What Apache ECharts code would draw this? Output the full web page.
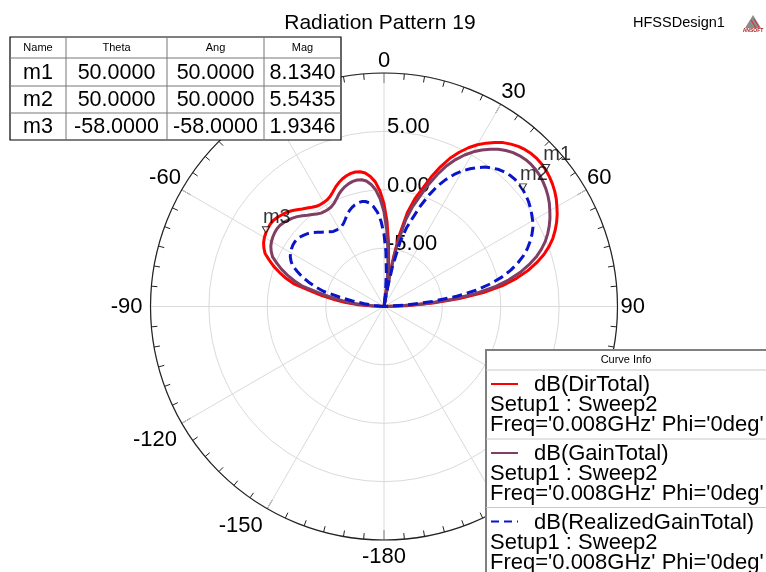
<!DOCTYPE html>
<html>
<head>
<meta charset="utf-8">
<script src="https://cdn.jsdelivr.net/npm/echarts@6/dist/echarts.min.js"></script>
<style>html,body{margin:0;padding:0;background:#fff}#c{width:766px;height:572px}</style>
</head>
<body>
<div id="c"></div>
<script>
// ---- data (theta in degrees, values in dB) ----
const angles = [-90,-88,-86,-84,-82,-80,-78,-76,-74,-72,-70,-68,-66,-64,-62,-60,-58,-56,-54,-52,-50,-48,-46,-44,-42,-40,-38,-36,-34,-32,-30,-28,-26,-24,-22,-20,-18,-16,-14,-12,-10,-8,-6,-4,-2,0,2,4,6,7,8,9,10,11,12,14,16,18,20,22,24,26,28,30,32,34,36,38,40,42,44,46,48,50,52,54,56,58,60,62,64,66,68,70,72,74,76,78,80,82,84,86,88,90];
const dirTotal = [-10,-9.0,-7.8,-6.6,-5.7,-4.6,-3.5,-2.1,-1.3,-0.6,0.05,0.6,1.15,1.45,1.68,1.83,1.93,2.0,2.03,2.0,1.9,1.75,1.6,1.4,1.15,0.9,0.7,0.5,0.35,0.3,0.3,0.35,0.5,0.75,1.05,1.3,1.5,1.65,1.75,1.78,1.72,1.55,1.2,0.7,-0.1,
  -1.2,-2.7,-4.5,-6.2,
  -7.2,-8.4,-10,-7.6,-5.6,
  -3.9,-1.7,-0.4,0.6,1.8,2.9,3.9,4.7,5.4,6.0,6.5,6.95,7.35,7.65,7.9,8.07,8.18,8.22,8.2,8.13,8.0,7.84,7.64,7.4,7.1,6.8,6.45,6.05,5.6,5.05,4.4,3.6,2.7,1.6,0.3,-1.4,-3.5,-5.8,-8.1,-10];
const gainTotal = [-10,-9.7,-8.5,-7.3,-6.4,-5.3,-4.2,-2.8,-2.0,-1.3,-0.65,-0.1,0.45,0.75,0.98,1.13,1.23,1.3,1.33,1.3,1.2,1.05,0.9,0.7,0.45,0.2,0.0,-0.2,-0.35,-0.4,-0.4,-0.35,-0.2,0.05,0.35,0.6,0.8,0.95,1.05,1.08,1.02,0.85,0.5,0.0,-0.8,
  -1.9,-3.4,-5.2,-6.9,
  -7.9,-9.1,-10,-8.3,-6.3,
  -4.6,-2.4,-1.1,-0.1,1.1,2.2,3.2,4.0,4.7,5.3,5.8,6.25,6.65,6.95,7.2,7.37,7.48,7.52,7.5,7.43,7.3,7.14,6.94,6.7,6.4,6.1,5.75,5.35,4.9,4.35,3.7,2.9,2.0,0.9,-0.4,-2.1,-4.2,-6.5,-8.8,-10];
const realizedGainTotal = [-10,-10,-10,-9.19,-8.29,-7.19,-6.09,-4.69,-3.89,-3.19,-2.54,-1.99,-1.44,-1.14,-0.91,-0.76,-0.66,-0.59,-0.56,-0.59,-0.69,-0.84,-0.99,-1.19,-1.44,-1.69,-1.89,-2.09,-2.24,-2.29,-2.29,-2.24,-2.09,-1.84,-1.54,-1.29,-1.09,-0.94,-0.84,-0.81,-0.87,-1.04,-1.39,-1.89,-2.69,
  -3.79,-5.29,-7.09,-8.79,
  -9.79,-10,-10,-10,-8.19,
  -6.49,-4.29,-2.99,-1.99,-0.79,0.31,1.31,2.11,2.81,3.41,3.91,4.36,4.76,5.06,5.31,5.48,5.59,5.63,5.61,5.54,5.43,5.3,5.12,4.92,4.7,4.45,4.1,3.7,3.25,2.7,2.05,1.3,0.4,-0.7,-2.0,-3.7,-5.8,-8.0,-10,-10];

const markerNames = ['m1', 'm2', 'm3'];
const markerTheta = [50, 50, -58];
const markerMag = [8.1340, 5.5435, 1.9346];

const seriesNames = ['dB(DirTotal)', 'dB(GainTotal)', 'dB(RealizedGainTotal)'];
const setupLabel = 'Setup1 : Sweep2';
const freqLabel = "Freq='0.008GHz' Phi='0deg'";
const tableHeader = ['Name', 'Theta', 'Ang', 'Mag'];
const titleText = 'Radiation Pattern 19';
const designText = 'HFSSDesign1';

// axis ticks: radius in dB, angle in degrees
const radiusMin = -10, radiusMax = 10, radiusStep = 5;
const angleStep = 30;

// ---- chart ----
const FONT = '"Liberation Sans", Arial, sans-serif';
const colors = ['#ff0000', '#7f3f63', '#0a14c8'];
const toAxis = a => (a < 0 ? a + 360 : a);
const mk = vals => angles.map((a, i) => [vals[i], toAxis(a)]);

const chart = echarts.init(document.getElementById('c'), null, { renderer: 'canvas' });

const g = [];
g.push({ type: 'text', x: 380, y: 23, z: 100, style: { text: titleText, font: '21px ' + FONT, fill: '#000', textAlign: 'center', textVerticalAlign: 'middle' } });
g.push({ type: 'text', x: 633, y: 23, z: 100, style: { text: designText, font: '14.5px ' + FONT, fill: '#000', textAlign: 'left', textVerticalAlign: 'middle' } });
// small logo
g.push({ type: 'polygon', z: 100, shape: { points: [[753, 15], [745, 28], [761, 28]] }, style: { fill: '#8c8c8c' } });
g.push({ type: 'line', z: 101, shape: { x1: 751, y1: 20, x2: 756, y2: 28 }, style: { stroke: '#d43030', lineWidth: 1 } });
g.push({ type: 'line', z: 101, shape: { x1: 754, y1: 19, x2: 759, y2: 27 }, style: { stroke: '#d43030', lineWidth: 1 } });
g.push({ type: 'text', x: 753, y: 31, z: 101, style: { text: 'ANSOFT', font: 'bold 5px ' + FONT, fill: '#a02020', textAlign: 'center', textVerticalAlign: 'middle' } });

// marker table
const tx = [10, 66, 167, 264, 341];
const ty = [37, 58, 86, 113, 140];
g.push({ type: 'rect', z: 100, shape: { x: tx[0], y: ty[0], width: tx[4] - tx[0], height: ty[4] - ty[0] }, style: { fill: '#fff', stroke: '#000', lineWidth: 1.2 } });
for (let i = 1; i < 4; i++) {
  g.push({ type: 'line', z: 101, shape: { x1: tx[i], y1: ty[0], x2: tx[i], y2: ty[4] }, style: { stroke: '#777', lineWidth: 1 } });
  g.push({ type: 'line', z: 101, shape: { x1: tx[0], y1: ty[i], x2: tx[4], y2: ty[i] }, style: { stroke: '#777', lineWidth: 1 } });
}
tableHeader.forEach((h, c) => {
  g.push({ type: 'text', z: 102, x: (tx[c] + tx[c + 1]) / 2, y: (ty[0] + ty[1]) / 2, style: { text: h, font: '11px ' + FONT, fill: '#000', textAlign: 'center', textVerticalAlign: 'middle' } });
});
markerNames.forEach((n, r) => {
  const cells = [n, markerTheta[r].toFixed(4), markerTheta[r].toFixed(4), markerMag[r].toFixed(4)];
  cells.forEach((t, c) => {
    g.push({ type: 'text', z: 102, x: (tx[c] + tx[c + 1]) / 2, y: (ty[r + 1] + ty[r + 2]) / 2 + 1, style: { text: t, font: '21.5px ' + FONT, fill: '#000', textAlign: 'center', textVerticalAlign: 'middle' } });
  });
});

// curve info box
const bx = 486, by = 350;
g.push({ type: 'rect', z: 100, shape: { x: bx, y: by, width: 300, height: 240 }, style: { fill: '#fff', stroke: '#808080', lineWidth: 2 } });
g.push({ type: 'text', z: 102, x: 626, y: 360, style: { text: 'Curve Info', font: '11px ' + FONT, fill: '#000', textAlign: 'center', textVerticalAlign: 'middle' } });
g.push({ type: 'line', z: 101, shape: { x1: bx, y1: 370, x2: 766, y2: 370 }, style: { stroke: '#c8c8c8', lineWidth: 1 } });
const entryTop = [370, 439, 507.5];
seriesNames.forEach((n, i) => {
  const t = entryTop[i];
  if (i > 0) g.push({ type: 'line', z: 101, shape: { x1: bx, y1: t, x2: 766, y2: t }, style: { stroke: '#c8c8c8', lineWidth: 1 } });
  g.push({ type: 'line', z: 102, shape: { x1: 491, y1: t + 14, x2: 518, y2: t + 14 }, style: { stroke: colors[i], lineWidth: 2, lineDash: i === 2 ? [8, 5] : null } });
  g.push({ type: 'text', z: 102, x: 534, y: t + 15, style: { text: n, font: '22px ' + FONT, fill: '#000', textAlign: 'left', textVerticalAlign: 'middle' } });
  g.push({ type: 'text', z: 102, x: 490, y: t + 35, style: { text: setupLabel, font: '22px ' + FONT, fill: '#000', textAlign: 'left', textVerticalAlign: 'middle' } });
  g.push({ type: 'text', z: 102, x: 490, y: t + 55, style: { text: freqLabel, font: '22px ' + FONT, fill: '#000', textAlign: 'left', textVerticalAlign: 'middle' } });
});

const curves = [dirTotal, gainTotal, realizedGainTotal];
const series = curves.map((vals, i) => ({
  name: seriesNames[i], type: 'line', coordinateSystem: 'polar', data: mk(vals),
  showSymbol: false, symbol: 'none', smooth: false, silent: true, z: 3 + i,
  lineStyle: { color: colors[i], width: 3, type: i === 2 ? [10, 5] : 'solid' }
}));
series.push({
  name: 'markers', type: 'scatter', coordinateSystem: 'polar', z: 10, silent: true,
  data: markerMag.map((m, i) => [m, toAxis(markerTheta[i])]),
  symbol: 'triangle', symbolRotate: 180, symbolSize: [7, 6], symbolOffset: [0, -3],
  itemStyle: { color: '#fff', borderColor: '#000', borderWidth: 1 },
  label: { show: true, position: 'top', distance: 1, offset: [11, 2], formatter: p => markerNames[p.dataIndex], fontFamily: FONT, fontSize: 20, color: '#000' }
});

const labelBase = { fontSize: 22, fontFamily: FONT, color: '#000' };
const angleLabelFormatter = v => {
  if (v === 360) return '';
  const d = v >= 180 ? v - 360 : v;
  const a = Math.abs(d);
  const key = a < 90 ? 'up' : (a === 90 ? 'side' : 'down');
  return '{' + key + '|' + d + '}';
};

chart.setOption({
  animation: false,
  backgroundColor: '#fff',
  polar: { center: [384, 306.5], radius: 233.5 },
  angleAxis: {
    type: 'value', min: 0, max: 360, interval: angleStep, startAngle: 90, clockwise: true,
    axisLine: { show: true, lineStyle: { color: '#222', width: 1.2 } },
    axisTick: { show: true, inside: true, length: 10, lineStyle: { color: '#222', width: 1 } },
    minorTick: { show: true, splitNumber: 6, length: 6, lineStyle: { color: '#222', width: 1 } },
    axisLabel: {
      margin: 1, fontSize: 22, fontFamily: FONT, color: '#000', formatter: angleLabelFormatter,
      rich: {
        up: Object.assign({ padding: [0, 0, 0, 0] }, labelBase),
        side: Object.assign({ padding: [0, 7, 0, 2] }, labelBase),
        down: Object.assign({ padding: [5, 4, 0, 4] }, labelBase)
      }
    },
    splitLine: { show: true, lineStyle: { color: '#dadada', width: 1 } }
  },
  radiusAxis: {
    type: 'value', min: radiusMin, max: radiusMax, interval: radiusStep,
    axisLine: { show: false }, axisTick: { show: false },
    axisLabel: {
      show: true, fontSize: 22, fontFamily: FONT, color: '#000', margin: -3, align: 'left', verticalAlign: 'middle',
      formatter: v => (v === radiusMin || v === radiusMax ? '' : '{r|' + v.toFixed(2) + '}'),
      rich: { r: Object.assign({ padding: [0, 0, 8, 0] }, labelBase) }
    },
    splitLine: { show: true, lineStyle: { color: '#dadada', width: 1 } }
  },
  graphic: { elements: g },
  series: series
});
</script>
</body>
</html>
